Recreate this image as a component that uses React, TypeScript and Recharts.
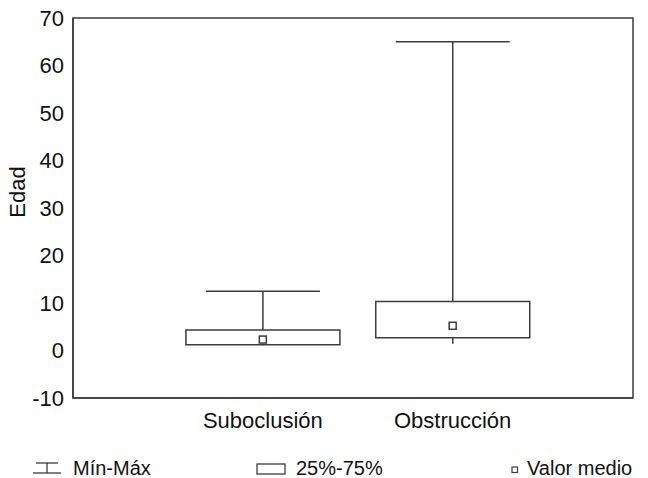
import { ComposedChart, Bar, Scatter, XAxis, YAxis, ReferenceArea, Label } from "recharts";

const categories = ["Suboclusión", "Obstrucción"];
const positions = [1, 2];
const minValues = [1.1, 1.4];
const q1Values = [1.2, 2.7];
const q3Values = [4.3, 10.3];
const maxValues = [12.5, 65];
const meanValues = [2.3, 5.2];
const yTicks = [-10, 0, 10, 20, 30, 40, 50, 60, 70];

const chartData = categories.map((name, i) => ({
  name,
  x: positions[i],
  min: minValues[i],
  q1: q1Values[i],
  q3: q3Values[i],
  max: maxValues[i],
  mean: meanValues[i],
}));

const INK = "#3c3c3c";
const FONT = "'Liberation Sans', Arial, sans-serif";

const Whisker = (props: any) => {
  const { x, y, width, height } = props;
  const top = Math.min(y, y + height);
  const bottom = Math.max(y, y + height);
  const cx = x + width / 2;
  return (
    <g>
      <line x1={cx} y1={top} x2={cx} y2={bottom} stroke={INK} strokeWidth={1.5} />
      <line x1={x} y1={top} x2={x + width} y2={top} stroke={INK} strokeWidth={1.5} />
    </g>
  );
};

const MeanMark = (props: any) => {
  const { cx, cy } = props;
  return <rect x={cx - 3.5} y={cy - 3.5} width={7} height={7} fill="#fff" stroke={INK} strokeWidth={1.5} />;
};

const YLabel = (props: any) => {
  const { viewBox } = props;
  const x = 17;
  const y = viewBox.y + viewBox.height / 2 - 16;
  return (
    <text x={x} y={y} transform={`rotate(-90, ${x}, ${y})`} textAnchor="middle" dominantBaseline="central" fontSize={22} fill="#111" fontFamily={FONT}>
      Edad
    </text>
  );
};

export default function App() {
  return (
    <div style={{ position: "absolute", left: 0, top: 0, width: 648, height: 478, background: "#fff", fontFamily: FONT, overflow: "hidden" }}>
      <ComposedChart width={648} height={478} data={chartData} margin={{ top: 18, right: 15, bottom: 50, left: 0 }}>
        <XAxis
          xAxisId="box"
          type="number"
          dataKey="x"
          domain={[0, 2.95]}
          ticks={positions}
          tickFormatter={(v: number) => categories[positions.indexOf(v)] ?? ""}
          tickLine={false}
          tickMargin={8}
          height={30}
          axisLine={{ stroke: INK, strokeWidth: 1.5 }}
          tick={{ fill: "#111", fontSize: 22, fontFamily: FONT }}
        />
        <XAxis xAxisId="wh" type="number" dataKey="x" domain={[0, 2.95]} hide />
        <YAxis
          type="number"
          domain={[-10, 70]}
          ticks={yTicks}
          width={73}
          tickLine={false}
          tickMargin={3}
          axisLine={{ stroke: INK, strokeWidth: 1.5 }}
          tick={{ fill: "#111", fontSize: 22, fontFamily: FONT }}
        >
          <Label content={YLabel} />
        </YAxis>
        <ReferenceArea
          xAxisId="box"
          x1={0}
          x2={2.95}
          y1={-10}
          y2={70}
          fill="none"
          stroke={INK}
          strokeWidth={1.5}
          ifOverflow="visible"
        />
        <Bar
          xAxisId="wh"
          dataKey={(d: any) => [d.min, d.max]}
          barSize={114}
          shape={Whisker}
          isAnimationActive={false}
        />
        <Bar
          xAxisId="box"
          dataKey={(d: any) => [d.q1, d.q3]}
          barSize={154}
          fill="#fff"
          stroke={INK}
          strokeWidth={1.5}
          isAnimationActive={false}
        />
        <Scatter xAxisId="box" dataKey="mean" shape={MeanMark} isAnimationActive={false} />
      </ComposedChart>
      <div style={{ position: "absolute", left: 0, top: 456, width: 648, height: 22, fontSize: 20, lineHeight: "20px", color: "#111", whiteSpace: "nowrap" }}>
        <svg style={{ position: "absolute", left: 32, top: 6 }} width={30} height={12}>
          <line x1={4} y1={1} x2={26} y2={1} stroke={INK} strokeWidth={1.3} />
          <line x1={15} y1={1} x2={15} y2={11} stroke={INK} strokeWidth={1.3} />
          <line x1={1} y1={11} x2={29} y2={11} stroke={INK} strokeWidth={1.3} />
        </svg>
        <span style={{ position: "absolute", left: 73, top: 2 }}>Mín-Máx</span>
        <svg style={{ position: "absolute", left: 256, top: 7 }} width={30} height={12}>
          <rect x={1} y={1} width={28} height={10} fill="#fff" stroke={INK} strokeWidth={1.3} />
        </svg>
        <span style={{ position: "absolute", left: 296, top: 2 }}>25%-75%</span>
        <svg style={{ position: "absolute", left: 511, top: 10 }} width={8} height={8}>
          <rect x={1} y={1} width={5.5} height={5.5} fill="#fff" stroke={INK} strokeWidth={1.2} />
        </svg>
        <span style={{ position: "absolute", left: 527, top: 2 }}>Valor medio</span>
      </div>
    </div>
  );
}
